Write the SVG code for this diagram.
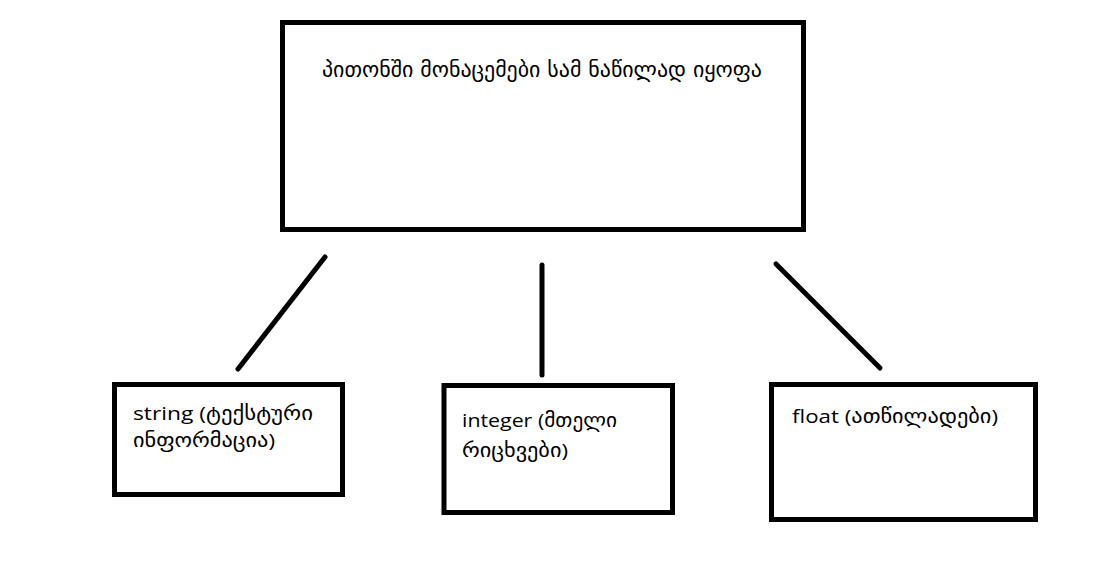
<svg xmlns="http://www.w3.org/2000/svg" width="1109" height="575" viewBox="0 0 1109 575">
  <style>
    .box { fill: #ffffff; stroke: #000000; stroke-width: 5; }
    .wire { stroke: #000000; stroke-width: 5; stroke-linecap: round; fill: none; }
    .title { font-family: "DejaVu Sans", "Noto Sans", sans-serif; font-size: 22px; fill: #000000; }
    .label { font-family: "Open Sans", "DejaVu Sans", sans-serif; font-size: 19px; fill: #000000; }
  </style>
  <rect x="0" y="0" width="1109" height="575" fill="#ffffff"/>

  <!-- top box: Python data types -->
  <g id="node-python">
    <rect class="box" x="282.5" y="22.5" width="521" height="207"/>
    <text class="title" x="322" y="77" textLength="440" lengthAdjust="spacingAndGlyphs">პითონში მონაცემები სამ ნაწილად იყოფა</text>
  </g>

  <!-- string -->
  <g id="node-string">
    <rect class="box" x="114.5" y="384.5" width="228" height="110"/>
    <text class="label" x="133" y="420" textLength="180" lengthAdjust="spacingAndGlyphs">string (ტექსტური</text>
    <text class="label" x="133" y="447" textLength="142" lengthAdjust="spacingAndGlyphs">ინფორმაცია)</text>
  </g>

  <!-- integer -->
  <g id="node-integer">
    <rect class="box" x="444" y="385.5" width="228.5" height="127"/>
    <text class="label" x="462" y="427" textLength="155" lengthAdjust="spacingAndGlyphs">integer (მთელი</text>
    <text class="label" x="462" y="457" textLength="106" lengthAdjust="spacingAndGlyphs">რიცხვები)</text>
  </g>

  <!-- float -->
  <g id="node-float">
    <rect class="box" x="771.5" y="384.5" width="264" height="135"/>
    <text class="label" x="792" y="423" textLength="206" lengthAdjust="spacingAndGlyphs">float (ათწილადები)</text>
  </g>

  <!-- connectors -->
  <g id="connectors">
    <line class="wire" x1="325" y1="257" x2="238" y2="369"/>
    <line class="wire" x1="542" y1="265" x2="542" y2="375"/>
    <line class="wire" x1="776" y1="264" x2="880" y2="368"/>
  </g>
</svg>
